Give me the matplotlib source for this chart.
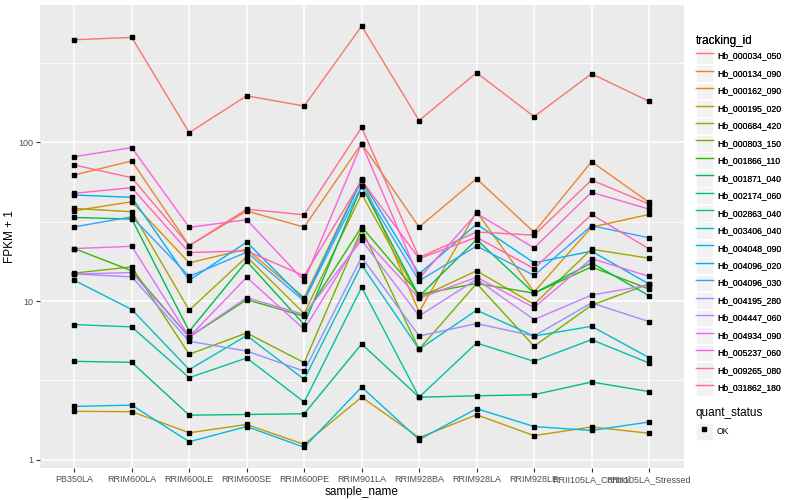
import numpy as np
import matplotlib
matplotlib.use("Agg")
from matplotlib import pyplot as plt
from matplotlib.lines import Line2D
from matplotlib.patches import Rectangle
from matplotlib.legend_handler import HandlerTuple

plt.rcParams['font.family'] = ['Liberation Sans', 'DejaVu Sans']

samples = ["PB350LA", "RRIM600LA", "RRIM600LE", "RRIM600SE", "RRIM600PE", "RRIM901LA",
           "RRIM928BA", "RRIM928LA", "RRIM928LE", "RRII105LA_Control", "RRII105LA_Stressed"]

tracking_ids = ["Hb_000034_050", "Hb_000134_090", "Hb_000162_090", "Hb_000195_020",
                "Hb_000684_420", "Hb_000803_150", "Hb_001866_110", "Hb_001871_040",
                "Hb_002174_060", "Hb_002863_040", "Hb_003406_040", "Hb_004048_090",
                "Hb_004096_020", "Hb_004096_030", "Hb_004195_280", "Hb_004447_060",
                "Hb_004934_090", "Hb_005237_060", "Hb_009265_080", "Hb_031862_180"]

# FPKM + 1, one list per gene in sample order
hb_000034_050 = [442, 457, 115, 196, 169, 539, 137, 274, 145, 270, 181]
hb_000134_090 = [62.2, 76.2, 22.3, 36.9, 29.2, 98.0, 29.2, 58.9, 27.1, 75.4, 41.8]
hb_000162_090 = [37.0, 42.2, 17.4, 21.2, 10.5, 58.9, 8.54, 36.5, 11.4, 29.2, 35.1]
hb_000195_020 = [2.02, 2.01, 1.48, 1.67, 1.25, 2.48, 1.38, 1.92, 1.42, 1.61, 1.47]
hb_000684_420 = [38.3, 36.5, 8.75, 19.0, 8.34, 47.2, 10.5, 15.5, 9.54, 21.2, 18.6]
hb_000803_150 = [15.0, 16.4, 4.62, 6.29, 4.09, 28.3, 4.97, 12.9, 5.19, 9.41, 12.8]
hb_001866_110 = [21.4, 15.5, 5.94, 10.2, 8.02, 29.3, 11.0, 12.9, 11.2, 16.4, 11.9]
hb_001871_040 = [33.6, 32.8, 6.45, 17.8, 7.11, 53.0, 10.7, 24.4, 11.2, 17.4, 10.8]
hb_002174_060 = [4.17, 4.11, 1.91, 1.93, 1.95, 5.36, 2.48, 2.53, 2.57, 3.09, 2.69]
hb_002863_040 = [7.11, 6.87, 3.29, 4.38, 2.31, 12.2, 2.48, 5.44, 4.17, 5.71, 4.07]
hb_003406_040 = [13.5, 8.84, 3.70, 6.06, 3.21, 16.9, 4.97, 8.75, 6.02, 6.93, 4.40]
hb_004048_090 = [2.17, 2.21, 1.30, 1.62, 1.20, 2.87, 1.34, 2.10, 1.62, 1.53, 1.73]
hb_004096_020 = [46.5, 45.0, 13.5, 23.5, 10.2, 57.6, 14.8, 30.5, 17.4, 20.6, 12.8]
hb_004096_030 = [29.3, 33.9, 14.3, 20.3, 10.0, 53.0, 13.4, 22.2, 14.5, 29.8, 25.0]
hb_004195_280 = [14.8, 14.2, 5.58, 4.84, 3.62, 18.9, 6.02, 7.21, 6.02, 9.73, 7.42]
hb_004447_060 = [14.8, 15.1, 5.94, 10.5, 8.22, 24.2, 8.05, 13.7, 7.64, 10.9, 12.6]
hb_004934_090 = [21.4, 22.1, 5.94, 14.1, 6.64, 25.7, 10.4, 14.1, 9.10, 18.5, 14.3]
hb_005237_060 = [81.1, 92.5, 29.1, 32.5, 13.4, 98.0, 13.9, 35.6, 21.6, 48.4, 37.9]
hb_009265_080 = [47.7, 51.7, 20.2, 20.7, 14.4, 57.6, 18.5, 25.2, 16.0, 35.1, 21.3]
hb_031862_180 = [71.9, 59.8, 22.3, 37.9, 34.9, 124, 18.8, 27.2, 26.0, 57.8, 40.8]

genes = [hb_000034_050, hb_000134_090, hb_000162_090, hb_000195_020, hb_000684_420,
         hb_000803_150, hb_001866_110, hb_001871_040, hb_002174_060, hb_002863_040,
         hb_003406_040, hb_004048_090, hb_004096_020, hb_004096_030, hb_004195_280,
         hb_004447_060, hb_004934_090, hb_005237_060, hb_009265_080, hb_031862_180]

# ggplot hue palette, 20 levels
colors = ["#F8766D", "#EA8331", "#D89000", "#C09B00", "#A3A500", "#7CAE00", "#39B600",
          "#00BB4E", "#00BF7D", "#00C1A3", "#00BFC4", "#00BAE0", "#00B0F6", "#35A2FF",
          "#9590FF", "#C77CFF", "#E76BF3", "#FA62DB", "#FF62BC", "#FF6C91"]

fig = plt.figure(figsize=(8, 5), dpi=100)
ax = fig.add_axes([39.8/800, 1 - 468.3/500, (683.5 - 39.8)/800, (468.3 - 5)/500])
ax.set_facecolor("#EBEBEB")
for s in ax.spines.values():
    s.set_visible(False)

x = np.arange(1, len(samples) + 1)
for vals, c in zip(genes, colors):
    ax.plot(x, vals, color=c, lw=1.0, zorder=2)
for vals in genes:
    ax.plot(x, vals, 's', color="black", ms=2.8, zorder=3)

ax.set_yscale("log")
allv = np.log10(np.concatenate([np.asarray(g, float) for g in genes]))
lo, hi = allv.min(), allv.max()
pad = 0.05 * (hi - lo)
ax.set_ylim(10**(lo - pad), 10**(hi + pad))
ax.set_xlim(0.4, len(samples) + 0.6)

ax.set_yticks([1, 10, 100])
ax.set_yticklabels(["1", "10", "100"])
ax.set_yticks([10**0.5, 10**1.5, 10**2.5], minor=True)
ax.set_yticklabels([], minor=True)
ax.set_xticks(x)
ax.set_xticklabels(samples)

ax.grid(which="major", color="white", lw=1.1, zorder=0)
ax.grid(which="minor", axis="y", color="white", lw=0.55, zorder=0)
ax.set_axisbelow(True)
ax.tick_params(which="major", length=3, width=0.8, color="#333333",
               labelsize=6.5, labelcolor="#4D4D4D", pad=2)
ax.tick_params(which="minor", length=0)

ax.set_xlabel("sample_name", fontsize=8.5, labelpad=1)
ax.set_ylabel("FPKM + 1", fontsize=8.5, labelpad=1)

# legends
key_bg = "#F2F2F2"
fs = 6.2
h1 = [(Rectangle((0, 0), 1, 1, facecolor=key_bg, edgecolor="white", lw=0.6),
       Line2D([], [], color=c, lw=1.0)) for c in colors]
leg1 = fig.legend(h1, tracking_ids, loc="upper left", bbox_to_anchor=(696/800, 1 - 35/500),
                  frameon=False, title="tracking_id", fontsize=fs, title_fontsize=8.5,
                  handlelength=1.97, handleheight=2.62, handletextpad=0.45,
                  labelspacing=0.08, borderpad=0, borderaxespad=0, alignment="left",
                  handler_map={tuple: HandlerTuple(ndivide=1, pad=0)})
fig.add_artist(leg1)

h2 = [(Rectangle((0, 0), 1, 1, facecolor=key_bg, edgecolor="white", lw=0.6),
       Line2D([], [], color="black", marker="s", ms=2.8, ls="none"))]
leg2 = fig.legend(h2, ["OK"], loc="upper left", bbox_to_anchor=(696/800, 1 - 407/500),
                  frameon=False, title="quant_status", fontsize=fs, title_fontsize=8.5,
                  handlelength=1.97, handleheight=2.62, handletextpad=0.45,
                  borderpad=0, borderaxespad=0, alignment="left",
                  handler_map={tuple: HandlerTuple(ndivide=1, pad=0)})

fig.savefig("out.png", dpi=100)
